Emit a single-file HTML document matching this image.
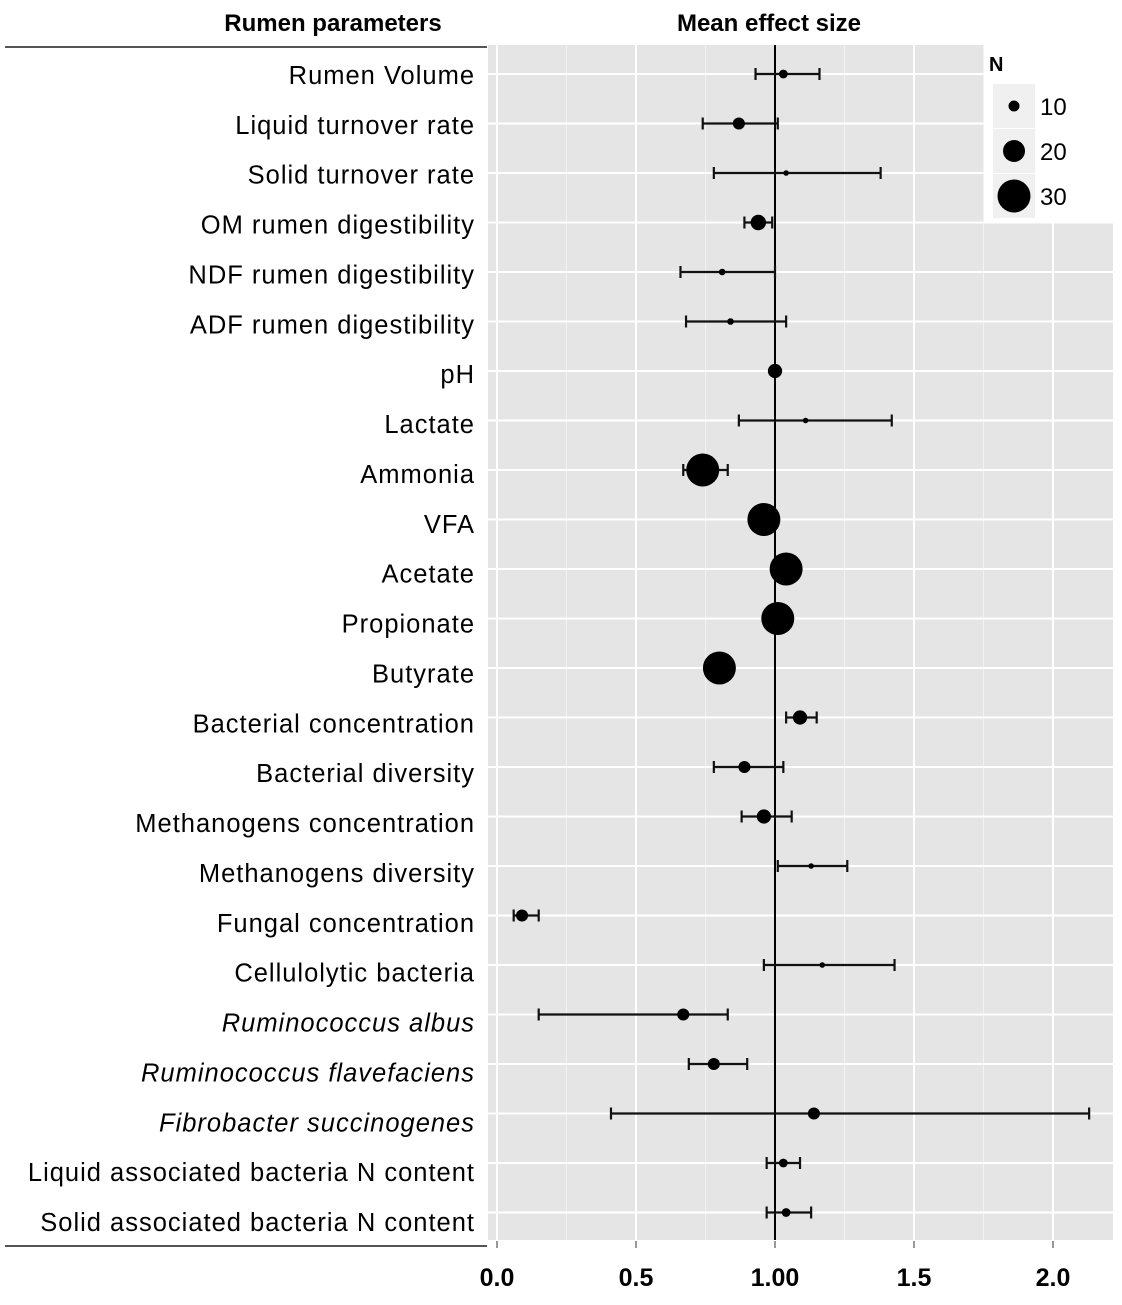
<!DOCTYPE html>
<html><head><meta charset="utf-8"><style>
body{margin:0;background:#fff}
svg{display:block}
text{font-family:"Liberation Sans",sans-serif}
</style></head><body>
<svg id="chart" width="1122" height="1305" xmlns="http://www.w3.org/2000/svg">
<rect x="0" y="0" width="1122" height="1305" fill="#fff"/>
<rect x="488" y="45" width="625" height="1195" fill="#e5e5e5"/>
<g id="grid"></g>
<g id="marks"></g>
<g id="labels"></g>
<text x="333" y="31" font-size="24" font-weight="bold" text-anchor="middle">Rumen parameters</text>
<text x="769" y="31" font-size="24" font-weight="bold" text-anchor="middle">Mean effect size</text>
<line x1="5" y1="47" x2="487" y2="47" stroke="#555" stroke-width="2"/>
<line x1="5" y1="1246" x2="487" y2="1246" stroke="#555" stroke-width="2"/>
<g id="legend"></g>
</svg>
<script>
const categories=["Rumen Volume","Liquid turnover  rate","Solid turnover  rate","OM rumen  digestibility","NDF rumen  digestibility","ADF rumen  digestibility","pH","Lactate","Ammonia","VFA","Acetate","Propionate","Butyrate","Bacterial concentration","Bacterial diversity","Methanogens concentration","Methanogens diversity","Fungal concentration","Cellulolytic bacteria","Ruminococcus albus","Ruminococcus flavefaciens","Fibrobacter succinogenes","Liquid associated bacteria N content","Solid associated bacteria N content"];
const italic=[false,false,false,false,false,false,false,false,false,false,false,false,false,false,false,false,false,false,false,true,true,true,false,false];
const means=[1.03,0.87,1.04,0.94,0.81,0.84,1.0,1.11,0.74,0.96,1.04,1.01,0.80,1.09,0.89,0.96,1.13,0.09,1.17,0.67,0.78,1.14,1.03,1.04];
const lower=[0.93,0.74,0.78,0.89,0.66,0.68,1.0,0.87,0.67,0.96,1.04,1.01,0.80,1.04,0.78,0.88,1.01,0.06,0.96,0.15,0.69,0.41,0.97,0.97];
const upper=[1.16,1.01,1.38,0.99,1.00,1.04,1.0,1.42,0.83,0.96,1.04,1.01,0.80,1.15,1.03,1.06,1.26,0.15,1.43,0.83,0.90,2.13,1.09,1.13];
const nStudies=[8,11,5,14,6,6,13,5,30,30,30,30,30,13,11,13,5,11,5,11,11,11,8,8];
const xTicks=[0,0.5,1,1.5,2];
const xTickLabels=["0.0","0.5","1.00","1.5","2.0"];
const legendN=[10,20,30];

const NS="http://www.w3.org/2000/svg";
const X=v=>497+278*v;
const Y=i=>74+i*49.5;
const R=n=>0.55*n;
function mk(tag,attrs,parent){const e=document.createElementNS(NS,tag);for(const k in attrs)e.setAttribute(k,attrs[k]);parent.appendChild(e);return e;}
const grid=document.getElementById('grid'),marks=document.getElementById('marks'),labels=document.getElementById('labels'),legend=document.getElementById('legend');
for(let v=-0.25;v<=2.25;v+=0.5){if(X(v)<488||X(v)>1113)continue;
const g=mk('line',{x1:X(v),x2:X(v),y1:45,y2:1240,stroke:'#f2f2f2','stroke-width':1},grid);

}
xTicks.forEach((t,i)=>{
const g=mk('line',{x1:X(t),x2:X(t),y1:45,y2:1240,stroke:'#fff','stroke-width':2},grid);


const tk=mk('line',{x1:X(t),x2:X(t),y1:1241,y2:1248,stroke:'#777','stroke-width':1.5},grid);


const tl=mk('text',{x:X(t),y:1286,'font-size':25,'font-weight':'bold','text-anchor':'middle'},labels);
tl.textContent=xTickLabels[i];


});
categories.forEach((c,i)=>{
const g=mk('line',{x1:488,x2:1113,y1:Y(i),y2:Y(i),stroke:'#fff','stroke-width':2},grid);


});
const ref=mk('line',{x1:X(1),x2:X(1),y1:45,y2:1240,stroke:'#000','stroke-width':2},marks);


categories.forEach((c,i)=>{
const y=Y(i);
if(upper[i]>lower[i]){
const eb=mk('g',{},marks);


mk('line',{x1:X(lower[i]),x2:X(upper[i]),y1:y,y2:y,stroke:'#111','stroke-width':2.2},eb);
mk('line',{x1:X(lower[i]),x2:X(lower[i]),y1:y-6,y2:y+6,stroke:'#111','stroke-width':2.2},eb);
mk('line',{x1:X(upper[i]),x2:X(upper[i]),y1:y-6,y2:y+6,stroke:'#111','stroke-width':2.2},eb);}
const p=mk('circle',{cx:X(means[i]),cy:y,r:R(nStudies[i]),fill:'#000'},marks);


const t=mk('text',{x:475,y:75+i*49.87+9,'font-size':25.5,'letter-spacing':1,'text-anchor':'end','font-style':italic[i]?'italic':'normal','xml:space':'preserve'},labels);
t.textContent=c;


});
mk('rect',{x:984,y:45,width:129,height:177,fill:'#fff'},legend);
const lt=mk('text',{x:989,y:71,'font-size':20,'font-weight':'bold'},legend);lt.textContent='N';


legendN.forEach((n,i)=>{const cy=106+i*45;
mk('rect',{x:993,y:cy-22,width:42,height:44,fill:'#f0f0f0'},legend);
const c=mk('circle',{cx:1014,cy:cy,r:R(n),fill:'#000'},legend);


const t=mk('text',{x:1040,y:cy+9,'font-size':24},legend);t.textContent=n;

});
document.getElementById('chart').insertBefore(legend,marks);
</script>
</body></html>
